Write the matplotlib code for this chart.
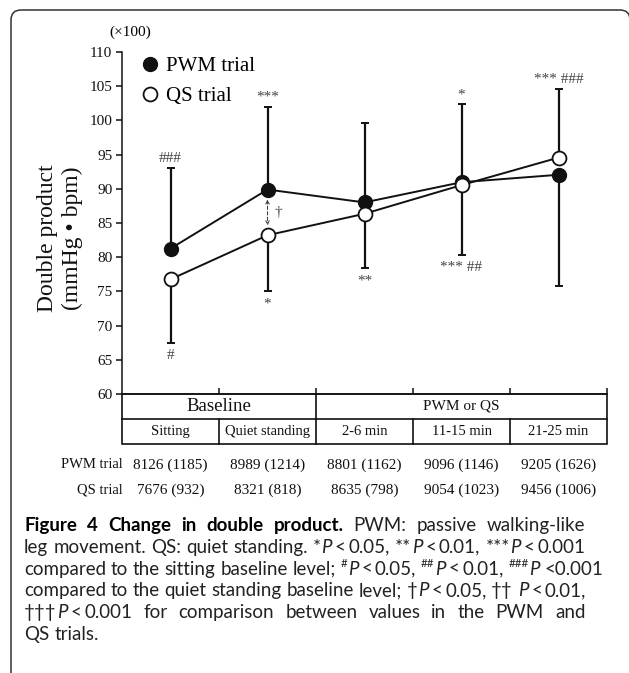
import matplotlib

matplotlib.use("Agg")
import matplotlib.pyplot as plt
from matplotlib.lines import Line2D
from matplotlib.patches import FancyBboxPatch, Rectangle
from matplotlib.transforms import IdentityTransform

PHASES = ["Sitting", "Quiet standing", "2-6 min", "11-15 min", "21-25 min"]
GROUPS = ["Baseline", "PWM or QS"]
GROUP_SPANS = [(0, 1), (2, 4)]
ROW_LABELS = ["PWM trial", "QS trial"]

PWM_MEAN = [8126, 8989, 8801, 9096, 9205]
PWM_SD = [1185, 1214, 1162, 1146, 1626]
QS_MEAN = [7676, 8321, 8635, 9054, 9456]
QS_SD = [932, 818, 798, 1023, 1006]
# side of the SD whisker for each phase (+1 up, -1 down)
PWM_SIDE = [1, 1, 1, 1, -1]
QS_SIDE = [-1, -1, -1, -1, 1]

# significance marks, written at the end of a whisker
MARKS = [
    ("PWM", 0, "###"),
    ("PWM", 1, "***"),
    ("PWM", 3, "*"),
    ("QS", 4, "*** ###"),
    ("QS", 0, "#"),
    ("QS", 1, "*"),
    ("QS", 2, "**"),
    ("QS", 3, "*** ##"),
]
DAGGER_PHASE = 1

Y_TICKS = [60, 65, 70, 75, 80, 85, 90, 95, 100, 105, 110]

CAPTION_LINES = [
    [("Figure 4 Change in double product.", "bold"), (" PWM: passive walking-like", "normal")],
    [("leg movement. QS: quiet standing. *", "normal"), ("P", "italic"), ("~<~0.05, **", "normal"),
     ("P", "italic"), ("~<~0.01, ***", "normal"), ("P", "italic"), ("~<~0.001", "normal")],
    [("compared to the sitting baseline level; ", "normal"), ("#", "sup"), ("P", "italic"),
     ("~<~0.05, ", "normal"), ("##", "sup"), ("P", "italic"), ("~<~0.01, ", "normal"),
     ("###", "sup"), ("P", "italic"), (" <0.001", "normal")],
    [("compared to the quiet standing baseline level; \u2020", "normal"), ("P", "italic"),
     ("~<~0.05, \u2020\u2020 ", "normal"), ("P", "italic"), ("~<~0.01,", "normal")],
    [("\u2020\u2020\u2020", "normal"), ("P", "italic"),
     ("~<~0.001 for comparison between values in the PWM and", "normal")],
    [("QS trials.", "normal")],
]

W, H = 629, 673
SERIF = "Liberation Serif"
SANS = ["Lato", "DejaVu Sans"]
INK = "#111111"


def caption_words(line):
    words = [[]]
    for text, style in line:
        for i, part in enumerate(text.split(" ")):
            if i > 0:
                words.append([])
            if part:
                words[-1].append((part, style))
    return [w for w in words if w]


def draw_caption(fig, renderer, left, right, top_baseline, step, size):
    px = size * 100 / 72
    thin = 0.12 * px
    space = 0.26 * px
    for li, line in enumerate(CAPTION_LINES):
        base = H - (top_baseline + li * step)
        words = []
        for word in caption_words(line):
            pieces = []
            width = 0.0
            for text, style in word:
                chunks = text.split("~")
                for ci, chunk in enumerate(chunks):
                    if ci > 0:
                        width += thin
                    if not chunk:
                        continue
                    kw = dict(fontsize=size, family=SANS, color="#222222", va="baseline")
                    dy = 0.0
                    if style == "bold":
                        kw["fontweight"] = "bold"
                        kw["color"] = "black"
                    elif style == "italic":
                        kw["fontstyle"] = "italic"
                    elif style == "sup":
                        kw["fontsize"] = size * 0.62
                        dy = 0.4 * px
                    t = fig.text(0, 0, chunk, transform=IdentityTransform(), **kw)
                    w = t.get_window_extent(renderer).width
                    pieces.append((t, width, dy))
                    width += w + 0.6
            words.append((pieces, width))
        total = sum(w for _, w in words)
        last = li == len(CAPTION_LINES) - 1
        if last or len(words) < 2:
            gap = space
        else:
            gap = max(space * 0.85, (right - left - total) / (len(words) - 1))
        x = left
        for pieces, width in words:
            for t, off, dy in pieces:
                t.set_position((x + off, base + dy))
            x += width + gap


def plot():
    fig = plt.figure(figsize=(W / 100, H / 100), dpi=100)
    ax = fig.add_axes([122 / W, 279 / H, 485 / W, 342 / H])
    tab = fig.add_axes([122 / W, 229 / H, 485 / W, 50 / H])

    x = list(range(len(PHASES)))
    pwm = [v / 100 for v in PWM_MEAN]
    qs = [v / 100 for v in QS_MEAN]
    pwm_sd = [v / 100 for v in PWM_SD]
    qs_sd = [v / 100 for v in QS_SD]

    for mean, sd, side in ((pwm, pwm_sd, PWM_SIDE), (qs, qs_sd, QS_SIDE)):
        lower = [s if d < 0 else 0 for s, d in zip(sd, side)]
        upper = [s if d > 0 else 0 for s, d in zip(sd, side)]
        ax.errorbar(x, mean, yerr=[lower, upper], fmt="none", ecolor=INK,
                    elinewidth=1.6, capsize=3, capthick=1.4, zorder=2)

    ax.plot(x, pwm, "-o", color=INK, lw=1.4, ms=10, mfc=INK, mec=INK, zorder=3)
    ax.plot(x, qs, "-o", color=INK, lw=1.4, ms=10, mfc="white", mec=INK, mew=1.3, zorder=4)

    series = {"PWM": (pwm, pwm_sd, PWM_SIDE), "QS": (qs, qs_sd, QS_SIDE)}
    for name, i, label in MARKS:
        mean, sd, side = series[name]
        end = mean[i] + side[i] * sd[i]
        if side[i] > 0:
            ax.annotate(label, (x[i], end), xytext=(0, 4), textcoords="offset points",
                        ha="center", va="baseline", fontsize=11, family=SERIF, color="#444444")
        else:
            ax.annotate(label, (x[i], end), xytext=(0, -4.5), textcoords="offset points",
                        ha="center", va="top", fontsize=11, family=SERIF, color="#444444")

    d = DAGGER_PHASE
    ax.annotate("", xy=(x[d], qs[d]), xytext=(x[d], pwm[d]),
                arrowprops=dict(arrowstyle="<->,head_length=0.25,head_width=0.12",
                                linestyle=(0, (3, 2)), lw=0.8, color="#444444",
                                shrinkA=7, shrinkB=7))
    ax.annotate("\u2020", (x[d], (qs[d] + pwm[d]) / 2), xytext=(8, 0), textcoords="offset points",
                ha="center", va="center", fontsize=11, family=SERIF, color="#444444")

    ax.set_xlim(-0.5, len(PHASES) - 0.5)
    ax.set_ylim(Y_TICKS[0], Y_TICKS[-1])
    ax.set_yticks(Y_TICKS)
    ax.set_yticklabels([str(t) for t in Y_TICKS], fontsize=11, family=SERIF)
    ax.set_xticks([i + 0.5 for i in x])
    ax.set_xticklabels([])
    ax.tick_params(axis="y", direction="out", length=4, width=1.1, pad=3, colors=INK)
    ax.tick_params(axis="x", direction="in", length=4, width=1.1, colors=INK)
    ax.spines[["top", "right"]].set_visible(False)
    for side in ("left", "bottom"):
        ax.spines[side].set_linewidth(1.1)
        ax.spines[side].set_color(INK)

    ax.set_ylabel("Double product\n(mmHg \u2022 bpm)", fontsize=17, family=SERIF,
                  linespacing=1.25, va="center", color=INK)
    ax.yaxis.set_label_coords(-0.128, 0.456)
    ax.annotate("(\u00d7100)", (0, 1), xycoords="axes fraction", xytext=(6, 14),
                textcoords="offset points", ha="center", va="center", fontsize=11, family=SERIF)

    handles = [
        Line2D([], [], ls="none", marker="o", ms=10, mfc=INK, mec=INK),
        Line2D([], [], ls="none", marker="o", ms=10, mfc="white", mec=INK, mew=1.3),
    ]
    ax.legend(handles, ["PWM trial", "QS trial"], loc="upper left", bbox_to_anchor=(0.028, 1.012),
              frameon=False, prop={"family": SERIF, "size": 15}, handlelength=0.6,
              handletextpad=0.45, labelspacing=0.5, borderaxespad=0)

    # category table under the axis
    n = len(PHASES)
    tab.set_xlim(-0.5, n - 0.5)
    tab.set_ylim(0, 2)
    tab.axis("off")
    tab.add_patch(Rectangle((-0.5, 0), n, 2, fill=False, lw=1.2, ec=INK, clip_on=False))
    tab.plot([-0.5, n - 0.5], [1, 1], color=INK, lw=1.2, clip_on=False)
    for i in range(n - 1):
        tab.plot([i + 0.5, i + 0.5], [0, 1], color=INK, lw=1.2, clip_on=False)
    for start, stop in GROUP_SPANS[:-1]:
        tab.plot([stop + 0.5, stop + 0.5], [1, 2], color=INK, lw=1.2, clip_on=False)
    for (start, stop), name, size in zip(GROUP_SPANS, GROUPS, (13.5, 11)):
        tab.text((start + stop) / 2, 1.5, name, ha="center", va="center", fontsize=size,
                 family=SERIF, color=INK)
    for i, name in enumerate(PHASES):
        tab.text(i, 0.5, name, ha="center", va="center", fontsize=10.5, family=SERIF, color=INK)

    for row, (label, means, sds) in enumerate(zip(ROW_LABELS, (PWM_MEAN, QS_MEAN), (PWM_SD, QS_SD))):
        y = -0.84 - row * 1.0
        tab.text(-0.49, y, label, ha="right", va="center", fontsize=10.5, family=SERIF,
                 color=INK, clip_on=False)
        for i, (m, s) in enumerate(zip(means, sds)):
            tab.text(i, y, f"{m} ({s})", ha="center", va="center", fontsize=11, family=SERIF,
                     color=INK, clip_on=False)

    fig.add_artist(FancyBboxPatch((11, -30), 619, H - 10 + 30, boxstyle="round,pad=0,rounding_size=10",
                                  transform=IdentityTransform(), fill=False, lw=1.1, ec="#333333"))

    renderer = fig.canvas.get_renderer()
    draw_caption(fig, renderer, left=24, right=586, top_baseline=531, step=21.8, size=13.5)

    fig.savefig("out.png", dpi=100)
    plt.close(fig)


if __name__ == "__main__":
    plot()
